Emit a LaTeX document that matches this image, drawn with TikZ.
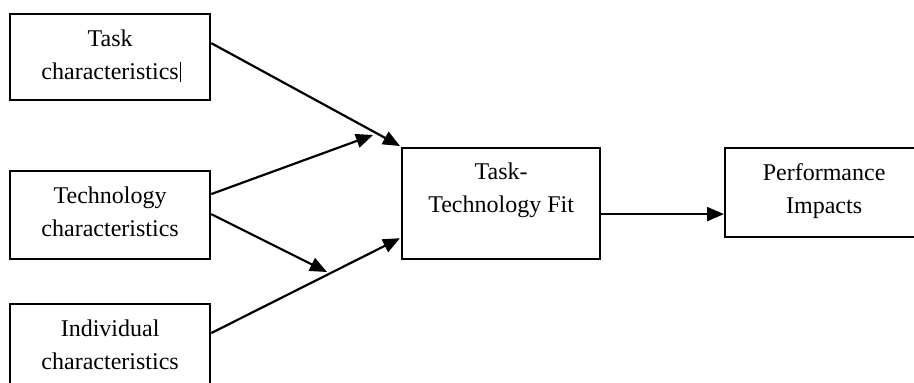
\documentclass[tikz,border=0pt]{standalone}
\usepackage{fontspec}
\setmainfont{Liberation Serif}
\usetikzlibrary{arrows.meta,calc}
\begin{document}
\begin{tikzpicture}[x=1pt,y=-1pt,
  box/.style={draw,line width=2.2pt,rectangle,inner sep=0pt,minimum width=200pt,anchor=north west},
  lbl/.style={anchor=north,inner sep=0pt,align=center,font=\fontsize{24}{33}\selectfont},
  arr/.style={line width=2.2pt,-{Triangle[length=17pt,width=14pt]}}]
\path[use as bounding box,clip] (0,0) rectangle (914,383);
\fill[white] (0,0) rectangle (914,383);
% boxes
\node[box,minimum height=86pt] (task) at (9,13) {};
\node[box,minimum height=88pt] (tech) at (9,170) {};
\node[box,minimum height=88pt] (ind) at (9,303) {};
\node[box,minimum width=198pt,minimum height=111pt] (ttf) at (401,147) {};
\node[box,minimum width=198pt,minimum height=89pt] (perf) at (724,147) {};
% labels
\node[lbl] (taskl) at ([yshift=-17pt]task.north) {Task\\characteristics\rlap{\kern1pt\rule[-2pt]{0.8pt}{20pt}}};
\node[lbl] (techl) at ([yshift=-17pt]tech.north) {Technology\\characteristics};
\node[lbl] (indl) at ([yshift=-17pt]ind.north) {Individual\\characteristics};
\node[lbl] (ttfl) at ([yshift=-16pt]ttf.north) {Task-\\Technology Fit};
\node[lbl] (perfl) at ([yshift=-16pt]perf.north) {Performance\\Impacts};
% junction points
\coordinate (j1) at (373,135);
\coordinate (j2) at (327,272);
% connectors
\draw[arr] ([yshift=14pt]task.east) -- ([xshift=-1pt,yshift=1pt]ttf.north west);
\draw[arr] ([yshift=21pt]tech.east) -- (j1);
\draw[arr] ([yshift=1pt]tech.east) -- (j2);
\draw[arr] ([yshift=15pt]ind.east) -- ([xshift=-1pt,yshift=22pt]ttf.south west);
\draw[arr] ([yshift=-10.5pt]ttf.east) coordinate (s) -- (s -| perf.west);
\end{tikzpicture}
\end{document}
